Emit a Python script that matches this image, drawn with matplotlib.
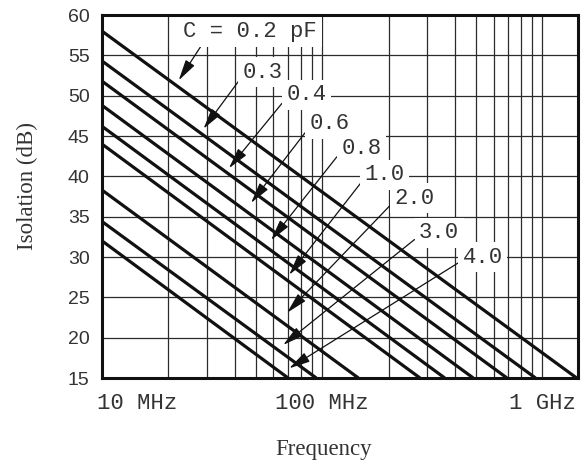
import matplotlib
matplotlib.use("Agg")

import matplotlib.pyplot as plt
from matplotlib.ticker import LogLocator, NullFormatter
from matplotlib.transforms import ScaledTranslation

# series capacitance of each curve (pF)
capacitance_pf = [0.2, 0.3, 0.4, 0.6, 0.8, 1.0, 2.0, 3.0, 4.0]
# isolation at the 10 MHz left edge (dB)
isolation_10mhz_db = [58.0, 54.3, 51.8, 48.8, 46.2, 44.0, 38.3, 34.4, 32.0]
# frequency where each curve drops to the 15 dB floor (MHz)
freq_at_15db_mhz = [1430, 930, 690, 485, 360, 278, 146, 94, 70]

freq_ticks_mhz = [10, 100, 1000]
freq_tick_labels = ["10 MHz", "100 MHz", "1 GHz"]
isolation_ticks = list(range(15, 61, 5))

# callout placement: text anchor (MHz, dB) and arrow tip (MHz, dB)
label_pos = [(23.4, 57.9), (43.6, 52.9), (68.7, 50.1), (87.5, 46.5), (122, 43.5),
             (156, 40.2), (212, 37.3), (275, 33.0), (434, 30.0)]
arrow_tip = [(22.3, 51.9), (28.9, 45.9), (37.7, 41.0), (47.5, 36.7), (58.6, 32.1),
             (70.8, 27.8), (69.3, 23.1), (66.5, 19.1), (70.8, 16.2)]

MONO = "Liberation Mono"
SERIF = "Liberation Serif"
SANS = "Liberation Sans"

fig = plt.figure(figsize=(5.86, 4.62), dpi=100)
ax = fig.add_axes([102 / 586, 1 - 378 / 462, 476 / 586, 363 / 462])

ax.set_xscale("log")
ax.set_xlim(10, 1450)
ax.set_ylim(15, 60)

ax.set_xticks(freq_ticks_mhz, freq_tick_labels)
ax.xaxis.set_minor_locator(LogLocator(base=10, subs=range(2, 10)))
ax.xaxis.set_minor_formatter(NullFormatter())
ax.set_yticks(isolation_ticks)

ax.set_axisbelow(True)
ax.grid(which="both", axis="x", color="#2b2b2b", lw=0.9)
ax.grid(which="major", axis="y", color="#2b2b2b", lw=0.9)
ax.tick_params(which="both", length=0)
ax.tick_params(axis="x", pad=11)
ax.tick_params(axis="y", pad=9)

for lbl in ax.get_xticklabels():
    lbl.set_fontfamily(MONO)
    lbl.set_fontsize(16)
    lbl.set_color("#333333")
for lbl in ax.get_yticklabels():
    lbl.set_fontfamily(SANS)
    lbl.set_fontsize(14)
    lbl.set_color("#333333")

first = ax.get_xticklabels()[0]
first.set_horizontalalignment("left")
first.set_transform(first.get_transform() + ScaledTranslation(-5 / 100, 0, fig.dpi_scale_trans))

for sp in ax.spines.values():
    sp.set_linewidth(2.2)
    sp.set_color("#111111")
    sp.set_zorder(6)

for y0, f1 in zip(isolation_10mhz_db, freq_at_15db_mhz):
    ax.plot([10, f1], [y0, 15], color="#111111", lw=2.3,
            solid_capstyle="butt", zorder=4)

for i, (c, pos, tip) in enumerate(zip(capacitance_pf, label_pos, arrow_tip)):
    text = f"C = {c} pF" if i == 0 else f"{c:.1f}"
    relpos = (0.15, 0.0) if i == 0 else (0.0, 0.35)
    ax.annotate(text, xy=tip, xytext=pos, textcoords="data",
                ha="left", va="center", fontsize=16, family=MONO, color="#333333",
                bbox=dict(boxstyle="square,pad=0.2", fc="white", ec="none"),
                arrowprops=dict(arrowstyle="-|>,head_length=0.8,head_width=0.2",
                                color="#111111", lw=0.9, shrinkA=0, shrinkB=0,
                                relpos=relpos),
                zorder=3)

ax.set_xlabel("Frequency", family=SERIF, fontsize=16.5, color="#333333")
ax.set_ylabel("Isolation (dB)", family=SERIF, fontsize=16.5, color="#333333")
ax.xaxis.label.set_verticalalignment("center")
ax.yaxis.label.set_verticalalignment("center")
ax.xaxis.set_label_coords(0.466, -0.198)
ax.yaxis.set_label_coords(-0.156, 0.529)

fig.savefig("out.png", dpi=100)
